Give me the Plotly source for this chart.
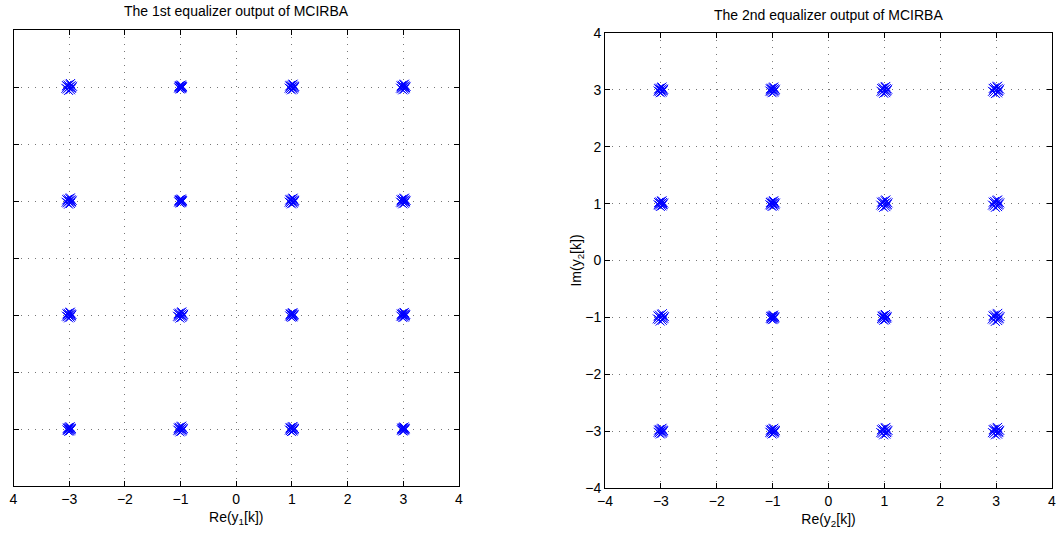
import plotly.graph_objects as go

# Constellation centres (16-QAM), row by row
CENTER_RE = [-3, -1, 1, 3, -3, -1, 1, 3, -3, -1, 1, 3, -3, -1, 1, 3]
CENTER_IM = [3, 3, 3, 3, 1, 1, 1, 1, -1, -1, -1, -1, -3, -3, -3, -3]

# Hand-read small scatter offsets around each centre (units)
OFF_RE = [0.00, 0.03, -0.03, 0.02, -0.02, 0.04, -0.04, 0.01, -0.01, 0.05, -0.05, 0.02, -0.03, 0.03]
OFF_IM = [0.00, 0.02, -0.03, -0.04, 0.03, -0.01, 0.02, 0.04, -0.05, 0.01, -0.02, 0.05, 0.01, -0.02]

# Cluster spread
SPREAD_1 = [1.2, 0.7, 1.0, 1.0, 1.1, 0.7, 1.0, 1.0, 1.0, 1.1, 0.8, 0.9, 0.8, 1.0, 0.9, 0.7]
SPREAD_2 = [1.0, 1.0, 1.2, 1.3, 1.0, 1.0, 1.3, 1.3, 1.3, 0.8, 1.0, 1.4, 1.0, 1.0, 1.3, 1.3]

TICKS = [-4, -3, -2, -1, 0, 1, 2, 3, 4]
TICK_TEXT_1 = ["4", "−3", "−2", "−1", "0", "1", "2", "3", "4"]
TICK_TEXT_2 = ["−4", "−3", "−2", "−1", "0", "1", "2", "3", "4"]


def cloud(spread):
    xs, ys = [], []
    for cr, ci, s in zip(CENTER_RE, CENTER_IM, spread):
        for dx, dy in zip(OFF_RE, OFF_IM):
            xs.append(cr + dx * s)
            ys.append(ci + dy * s)
    return xs, ys


x1, y1 = cloud(SPREAD_1)
x2, y2 = cloud(SPREAD_2)

FONT = "Liberation Sans, Arial, Helvetica, sans-serif"
BLUE = "#0000FF"

fig = go.Figure()
mk = dict(symbol="x-thin", size=9, color=BLUE, line=dict(color=BLUE, width=1))
fig.add_trace(go.Scatter(x=x1, y=y1, mode="markers", marker=mk, xaxis="x", yaxis="y", showlegend=False))
fig.add_trace(go.Scatter(x=x2, y=y2, mode="markers", marker=mk, xaxis="x2", yaxis="y2", showlegend=False))

axis_common = dict(
    range=[-4, 4], tickmode="array", tickvals=TICKS, automargin=False,
    showgrid=True, gridcolor="#777777", griddash="1px,6px", gridwidth=1,
    zeroline=False, showline=True, linecolor="black", linewidth=1, mirror="allticks",
    ticks="inside", ticklen=5, tickcolor="black",
    tickfont=dict(family=FONT, size=14, color="black"),
)

fig.update_layout(
    width=1062, height=537,
    margin=dict(l=0, r=0, t=0, b=0, autoexpand=False),
    paper_bgcolor="white", plot_bgcolor="white",
    font=dict(family=FONT, size=14, color="black"),
    xaxis=dict(axis_common, domain=[13.5 / 1062, 459 / 1062], anchor="y",
               ticktext=TICK_TEXT_1,
               title=dict(text="Re(y<sub>1</sub>[k])", font=dict(size=14), standoff=6)),
    yaxis=dict(axis_common, domain=[(537 - 486) / 537, (537 - 30) / 537], anchor="x",
               showticklabels=False, ticktext=TICK_TEXT_2),
    xaxis2=dict(axis_common, domain=[605 / 1062, 1052 / 1062], anchor="y2",
                ticktext=TICK_TEXT_2,
                title=dict(text="Re(y<sub>2</sub>[k])", font=dict(size=14), standoff=6)),
    yaxis2=dict(axis_common, domain=[(537 - 488) / 537, (537 - 33) / 537], anchor="x2",
                ticktext=TICK_TEXT_2,
                title=dict(text="Im(y<sub>2</sub>[k])", font=dict(size=14), standoff=0)),
    annotations=[
        dict(text="The 1st equalizer output of MCIRBA", x=236 / 1062, y=1 - 11 / 537,
             xref="paper", yref="paper", xanchor="center", yanchor="middle",
             showarrow=False, font=dict(family=FONT, size=14, color="black")),
        dict(text="The 2nd equalizer output of MCIRBA", x=828 / 1062, y=1 - 15 / 537,
             xref="paper", yref="paper", xanchor="center", yanchor="middle",
             showarrow=False, font=dict(family=FONT, size=14, color="black")),
    ],
)

fig.write_html("out.html")
